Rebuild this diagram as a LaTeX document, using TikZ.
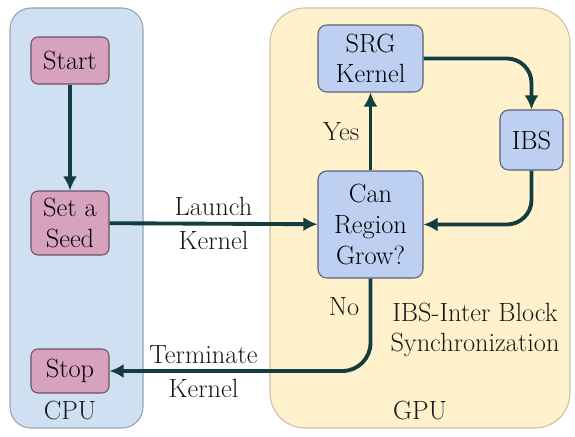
\documentclass[tikz,border=0pt]{standalone}
\usepackage{tikz}
\usetikzlibrary{arrows.meta, positioning, calc}
\newcommand\diagfont{\rmfamily}
\definecolor{cpufill}{RGB}{206,224,242}
\definecolor{cpuedge}{RGB}{150,162,178}
\definecolor{gpufill}{RGB}{255,241,204}
\definecolor{gpuedge}{RGB}{205,192,160}
\definecolor{pinkfill}{RGB}{214,162,190}
\definecolor{pinkedge}{RGB}{110,80,98}
\definecolor{bluefill}{RGB}{190,208,242}
\definecolor{blueedge}{RGB}{88,98,118}
\definecolor{flowcol}{RGB}{18,62,64}
\tikzset{
  hostblock/.style={rectangle, draw=pinkedge, fill=pinkfill,
    minimum width=1.56cm, align=center, inner sep=0pt,
    font=\diagfont\fontsize{15}{17.5}\selectfont, rounded corners=4pt, line width=0.6pt},
  devblock/.style={rectangle, draw=blueedge, fill=bluefill,
    align=center, inner sep=0pt,
    font=\diagfont\fontsize{15}{17.5}\selectfont, rounded corners=5pt, line width=0.6pt},
  lbl/.style={font=\diagfont\fontsize{15}{17.5}\selectfont, align=center, text=black!90},
  flow/.style={-{Latex[length=8pt,width=8pt]}, line width=2.2pt, color=flowcol}
}
\begin{document}
\begin{tikzpicture}
  \useasboundingbox (0,0) rectangle (11.5,-8.72);

  % CPU side
  \draw[draw=cpuedge, fill=cpufill, line width=0.6pt, rounded corners=12pt] (0.2,-0.16) rectangle (2.86,-8.56);
  % GPU side
  \draw[draw=gpuedge, fill=gpufill, line width=0.6pt, rounded corners=20pt] (5.4,-0.16) rectangle (11.4,-8.56);

  % host nodes
  \node[hostblock, minimum height=0.94cm] (start) at (1.4,-1.21) {Start};
  \node[hostblock, minimum height=1.28cm] (seed) at (1.4,-4.46) {Set a\\Seed};
  \node[hostblock, minimum height=0.88cm] (stop) at (1.4,-7.42) {Stop};
  \node[lbl] (cpu) at (1.4,-8.2) {CPU};

  % device nodes
  \node[devblock, minimum width=2.1cm, minimum height=1.34cm] (srg) at (7.41,-1.17) {SRG\\Kernel};
  \node[devblock, minimum width=1.26cm, minimum height=1.2cm] (ibs) at (10.63,-2.8) {IBS};
  \node[devblock, minimum width=2.1cm, minimum height=2.14cm] (grow) at (7.41,-4.49) {Can\\Region\\Grow?};
  \node[lbl] (note) at (9.5,-6.6) {IBS-Inter Block\\Synchronization};
  \node[lbl] (gpu) at (8.4,-8.2) {GPU};

  % connections
  \draw[flow] (start) -- (seed);
  \draw[flow] (seed) -- (grow)
    node[lbl, midway, above=0pt] {Launch}
    node[lbl, midway, below=0pt] {Kernel};
  \draw[flow] (grow) -- (srg) node[lbl, midway, left=2pt] {Yes};
  \draw[flow, rounded corners=14pt] (srg.east) -| (ibs.north);
  \draw[flow, rounded corners=14pt] (ibs.south) |- (grow.east);
  \draw[flow, rounded corners=16pt] (grow.south) |- (stop.east)
    node[lbl, pos=0.15, left=2pt] {No}
    node[lbl, pos=0.82, above=0pt] {Terminate}
    node[lbl, pos=0.82, below=0pt] {Kernel};
\end{tikzpicture}
\end{document}
